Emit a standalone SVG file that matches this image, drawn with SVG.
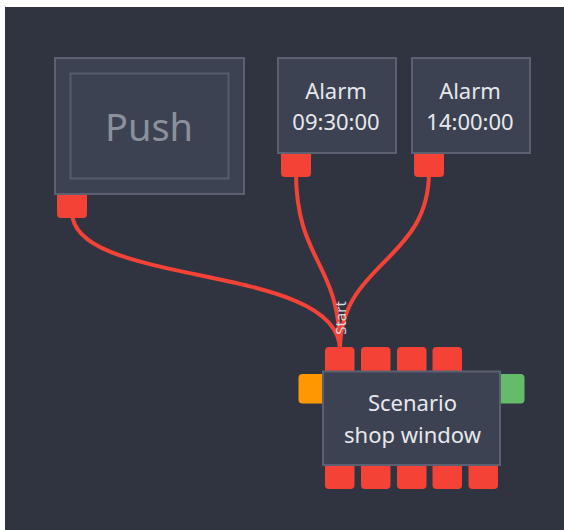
<svg xmlns="http://www.w3.org/2000/svg" width="564" height="530" viewBox="0 0 564 530">
<style>
.node{fill:#3c4252;stroke:#5b6170;stroke-width:2}
.port{fill:#f44336}
.lbl{font-family:"Noto Sans","Open Sans",sans-serif;fill:#e6e8ec;font-size:22px;text-anchor:middle}
.wire{fill:none;stroke:#f44336;stroke-width:4;stroke-linecap:round}
</style>
<rect x="0" y="0" width="564" height="530" fill="#ffffff"/>
<rect x="5" y="7" width="559" height="523" fill="#2f3440"/>
<g id="connectors">
<path class="wire" d="M72,212 C72,288 340,262 340,350"/>
<path class="wire" d="M296,172 C296,262 340,262 340,350"/>
<path class="wire" d="M429,172 C429,262 340,262 340,350"/>
</g>
<g id="push">
<path class="port" d="M57,192 H87 V214 Q87,218 83,218 H61 Q57,218 57,214 Z"/>
<rect class="node" x="55" y="58" width="189" height="136"/>
<rect x="70.5" y="73.5" width="158" height="105" fill="none" stroke="#565c6b" stroke-width="2"/>
<text x="149" y="141" font-family="Noto Sans, Open Sans, sans-serif" font-size="38" fill="#8a909c" text-anchor="middle">Push</text>
</g>
<g id="alarm1">
<path class="port" d="M281,150 H311 V173 Q311,177 307,177 H285 Q281,177 281,173 Z"/>
<rect class="node" x="278" y="58" width="118" height="95"/>
<text class="lbl" x="336" y="99">Alarm</text>
<text class="lbl" x="336" y="130">09:30:00</text>
</g>
<g id="alarm2">
<path class="port" d="M414,150 H444 V173 Q444,177 440,177 H418 Q414,177 414,173 Z"/>
<rect class="node" x="412" y="58" width="118" height="95"/>
<text class="lbl" x="470" y="99">Alarm</text>
<text class="lbl" x="470" y="130">14:00:00</text>
</g>
<g id="scenario">
<rect class="port" x="325" y="347" width="29.5" height="30" rx="4"/>
<rect class="port" x="361" y="347" width="29.5" height="30" rx="4"/>
<rect class="port" x="397" y="347" width="29.5" height="30" rx="4"/>
<rect class="port" x="432.5" y="347" width="29.5" height="30" rx="4"/>
<rect class="port" x="325" y="459" width="29.5" height="30" rx="4"/>
<rect class="port" x="361" y="459" width="29.5" height="30" rx="4"/>
<rect class="port" x="397" y="459" width="29.5" height="30" rx="4"/>
<rect class="port" x="432.5" y="459" width="29.5" height="30" rx="4"/>
<rect class="port" x="468.5" y="459" width="29.5" height="30" rx="4"/>
<rect x="298.5" y="374" width="32" height="29.5" rx="4" fill="#ff9800"/>
<rect x="492" y="374" width="32.5" height="29.5" rx="4" fill="#66bb6a"/>
<rect class="node" x="323" y="371.5" width="177" height="93.5"/>
<text class="lbl" x="412.5" y="411">Scenario</text>
<text class="lbl" x="412.5" y="443">shop window</text>
<text transform="translate(346,318) rotate(-90)" font-family="Noto Sans, Open Sans, sans-serif" font-size="15" fill="#d5d8de" text-anchor="middle">Start</text>
</g>
</svg>
